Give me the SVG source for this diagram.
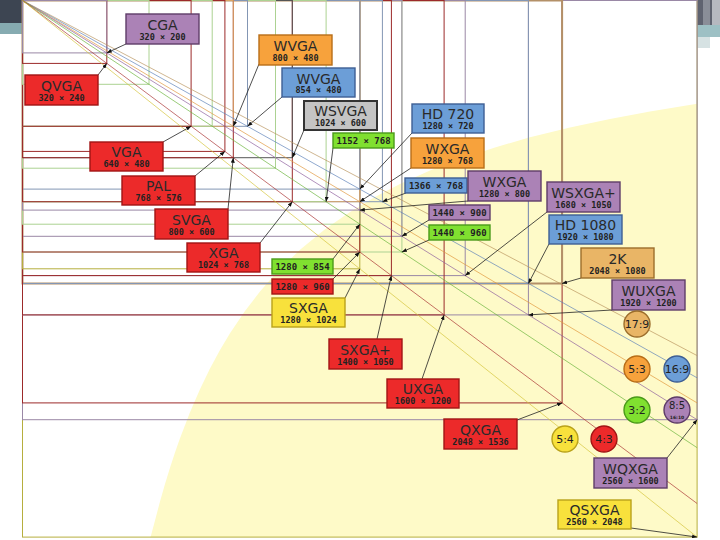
<svg xmlns="http://www.w3.org/2000/svg" width="720" height="540" viewBox="0 0 720 540">
<style>
.res{fill:none;stroke-width:1}
.r43{stroke:#9c2a2a}.r85{stroke:#9a88a6}.r169{stroke:#8396b4}.r32{stroke:#acd292}.r53{stroke:#d9a466}.r54{stroke:#b6ae3e}.r179{stroke:#b39068;stroke-width:2}.rgr{stroke:#555}
.dg{fill:none;stroke-width:0.8;stroke-opacity:0.85}
.b{stroke-width:1.4}
.red{fill:#ec2a2a;stroke:#a11515}.pur{fill:#ab82b6;stroke:#5e3c68}.org{fill:#f7a23c;stroke:#b86e18}.blu{fill:#6c9ed7;stroke:#3e5f94}.gry{fill:#c4c4c4;stroke:#333;stroke-width:2}.grn{fill:#80e030;stroke:#4a9a1a}.yel{fill:#f8e13c;stroke:#b9a21a}.tan{fill:#e9b566;stroke:#9c6e2c}
.t{font-family:"DejaVu Sans",sans-serif;font-size:14px;fill:#2a2a2a;text-anchor:middle}
.n{font-family:"DejaVu Sans Mono",monospace;font-weight:bold;font-size:8.5px;fill:#222;text-anchor:middle}
.s{font-family:"DejaVu Sans Mono",monospace;font-weight:bold;font-size:9px;fill:#222;text-anchor:middle}
.c{font-family:"DejaVu Sans",sans-serif;font-size:11px;fill:#222;text-anchor:middle}
.cn{fill:none;stroke:#222;stroke-width:0.8;marker-end:url(#ah)}
</style>
<defs>
<marker id="ah" markerWidth="5" markerHeight="4" refX="5" refY="2" orient="auto" markerUnits="userSpaceOnUse"><path d="M0,0 L5,2 L0,4 z" fill="#111"/></marker>
</defs>
<rect width="720" height="540" fill="#fff"/>
<!-- slide decoration -->
<rect x="0" y="0" width="22" height="23" fill="#3d4552"/>
<rect x="0" y="23" width="22" height="11" fill="#86abb1"/>
<rect x="697" y="0" width="23" height="25" fill="#5f6370"/>
<rect x="703" y="0" width="7" height="25" fill="#8a8e98"/>
<rect x="712" y="0" width="8" height="25" fill="#b6b9c0"/>
<rect x="697" y="25" width="23" height="12" fill="#9dc0c4"/>
<rect x="697" y="37" width="13" height="11" fill="#d6e2e3"/>
<!-- megapixel region -->
<path d="M150.6,537.1 L155,520.4 L160,501.6 L165,484.1 L170,467.8 L175,452.5 L180,438.3 L190,412.3 L200,389.2 L210,368.6 L220,350 L230,333.3 L245,311 L260,291.5 L275,274.3 L300,249.7 L325,229.3 L350,211.9 L375,197 L400,184.1 L430,170.6 L460,159.1 L495,147.4 L530,137.3 L570,127.4 L610,118.9 L650,111.4 L697.1,103.7 L697.1,537.1 Z" fill="#fefac8"/>
<!-- resolution rectangles -->
<g id="resolution-lines" transform="translate(22.5,0.5)">
<rect class="res r54" width="674.6" height="536.6"/>
<rect class="res r85" width="674.6" height="419.2"/>
<rect class="res r43" width="539.6" height="402.4"/>
<rect class="res r85" width="505.9" height="314.4"/>
<rect class="res r179" width="539.6" height="283"/>
<rect class="res r169" width="505.9" height="283"/>
<rect class="res r85" width="442.7" height="275.1"/>
<rect class="res r43" width="421.6" height="314.4"/>
<rect class="res r32" width="379.4" height="251.5"/>
<rect class="res r85" width="379.4" height="235.8"/>
<rect class="res r43" width="368.9" height="275.1"/>
<rect class="res r169" width="359.9" height="201.2"/>
<rect class="res r54" width="337.3" height="268.3"/>
<rect class="res r43" width="337.3" height="251.5"/>
<rect class="res r32" width="337.3" height="223.7"/>
<rect class="res r85" width="337.3" height="209.6"/>
<rect class="res r53" width="337.3" height="201.2"/>
<rect class="res r169" width="337.3" height="188.6"/>
<rect class="res r32" width="303.6" height="201.2"/>
<rect class="res r43" width="269.8" height="201.2"/>
<rect class="res rgr" width="269.8" height="157.2"/>
<rect class="res r32" width="253" height="167.7"/>
<rect class="res r169" width="225" height="125.8"/>
<rect class="res r43" width="210.8" height="157.2"/>
<rect class="res r53" width="210.8" height="125.8"/>
<rect class="res r43" width="202.4" height="150.9"/>
<rect class="res r32" width="189.7" height="125.8"/>
<rect class="res r43" width="168.6" height="125.8"/>
<rect class="res r32" width="126.5" height="83.8"/>
<rect class="res r43" width="84.3" height="62.9"/>
<rect class="res r85" width="84.3" height="52.4"/>
</g>
<!-- aspect ratio diagonals -->
<g id="aspect-lines" transform="translate(22.5,0.5)">
<line class="dg" x2="674.6" y2="355.1" stroke="#b8935c"/>
<line class="dg" x2="674.6" y2="377.3" stroke="#5a7fb8"/>
<line class="dg" x2="674.6" y2="402.4" stroke="#e0963a"/>
<line class="dg" x2="674.6" y2="419.2" stroke="#8c5c9c"/>
<line class="dg" x2="674.6" y2="447.2" stroke="#6ab43a"/>
<line class="dg" x2="674.6" y2="503" stroke="#a83030"/>
<line class="dg" x2="674.6" y2="536.6" stroke="#d4c438"/>
</g>
<!-- connectors -->
<g id="connectors">
<line class="cn" x1="126" y1="44" x2="106.8" y2="52.9"/>
<line class="cn" x1="98" y1="75" x2="106.8" y2="63.4"/>
<line class="cn" x1="259" y1="64" x2="233.3" y2="126.3"/>
<line class="cn" x1="282" y1="97" x2="247.5" y2="126.3"/>
<line class="cn" x1="304" y1="130" x2="292.3" y2="157.7"/>
<line class="cn" x1="333" y1="148" x2="326.1" y2="201.7"/>
<line class="cn" x1="412" y1="133" x2="359.8" y2="189.1"/>
<line class="cn" x1="411" y1="168" x2="359.8" y2="201.7"/>
<line class="cn" x1="406" y1="193" x2="382.4" y2="201.7"/>
<line class="cn" x1="468" y1="201" x2="359.8" y2="210.1"/>
<line class="cn" x1="429" y1="220" x2="401.9" y2="236.3"/>
<line class="cn" x1="429" y1="240" x2="401.9" y2="252"/>
<line class="cn" x1="547" y1="212" x2="465.2" y2="275.6"/>
<line class="cn" x1="549" y1="244" x2="528.4" y2="283.5"/>
<line class="cn" x1="581" y1="278" x2="562.1" y2="283.5"/>
<line class="cn" x1="612" y1="310" x2="528.4" y2="314.9"/>
<line class="cn" x1="163" y1="142" x2="191.1" y2="126.3"/>
<line class="cn" x1="195" y1="176" x2="224.9" y2="151.4"/>
<line class="cn" x1="228" y1="209" x2="233.3" y2="157.7"/>
<line class="cn" x1="260" y1="243" x2="292.3" y2="201.7"/>
<line class="cn" x1="333" y1="259" x2="359.8" y2="224.2"/>
<line class="cn" x1="333" y1="279" x2="359.8" y2="252"/>
<line class="cn" x1="345" y1="298" x2="359.8" y2="268.8"/>
<line class="cn" x1="377" y1="339" x2="391.4" y2="275.6"/>
<line class="cn" x1="422" y1="379" x2="444.1" y2="314.9"/>
<line class="cn" x1="517" y1="420" x2="562.1" y2="402.9"/>
<line class="cn" x1="667" y1="458" x2="697.1" y2="419.7"/>
<line class="cn" x1="631" y1="528" x2="697.1" y2="537.1"/>
</g>
<!-- nodes -->
<g id="cga"><rect class="b pur" x="126" y="14" width="73" height="30"/><text class="t" x="162.5" y="29.5">CGA</text><text class="n" x="162.5" y="39.5">320 × 200</text></g>
<g id="qvga"><rect class="b red" x="25" y="75" width="73" height="30"/><text class="t" x="61.5" y="90.5">QVGA</text><text class="n" x="61.5" y="100.5">320 × 240</text></g>
<g id="wvga-800"><rect class="b org" x="259" y="35" width="73" height="30"/><text class="t" x="295.5" y="50.5">WVGA</text><text class="n" x="295.5" y="60.5">800 × 480</text></g>
<g id="wvga-854"><rect class="b blu" x="282" y="68" width="73" height="29"/><text class="t" x="318.5" y="83.5">WVGA</text><text class="n" x="318.5" y="93">854 × 480</text></g>
<g id="wsvga"><rect class="b gry" x="304" y="101" width="73" height="29"/><text class="t" x="340.5" y="116">WSVGA</text><text class="n" x="340.5" y="125.5">1024 × 600</text></g>
<g id="r1152x768"><rect class="b grn" x="333" y="133" width="61" height="15"/><text class="s" x="363.5" y="144">1152 × 768</text></g>
<g id="hd720"><rect class="b blu" x="412" y="104" width="72" height="29"/><text class="t" x="448" y="119">HD 720</text><text class="n" x="448" y="128.5">1280 × 720</text></g>
<g id="wxga-768"><rect class="b org" x="411" y="138" width="73" height="30"/><text class="t" x="447.5" y="153.5">WXGA</text><text class="n" x="447.5" y="163.5">1280 × 768</text></g>
<g id="r1366x768"><rect class="b blu" x="405" y="178" width="62" height="15"/><text class="s" x="436" y="189">1366 × 768</text></g>
<g id="wxga-800"><rect class="b pur" x="468" y="171" width="73" height="30"/><text class="t" x="504.5" y="186.5">WXGA</text><text class="n" x="504.5" y="196.5">1280 × 800</text></g>
<g id="r1440x900"><rect class="b pur" x="429" y="205" width="61" height="15"/><text class="s" x="459.5" y="216">1440 × 900</text></g>
<g id="r1440x960"><rect class="b grn" x="429" y="225" width="61" height="15"/><text class="s" x="459.5" y="236">1440 × 960</text></g>
<g id="wsxga-plus"><rect class="b pur" x="547" y="182" width="73" height="30"/><text class="t" x="583.5" y="197.5">WSXGA+</text><text class="n" x="583.5" y="207.5">1680 × 1050</text></g>
<g id="hd1080"><rect class="b blu" x="549" y="215" width="73" height="29"/><text class="t" x="585.5" y="230">HD 1080</text><text class="n" x="585.5" y="239.5">1920 × 1080</text></g>
<g id="k2"><rect class="b tan" x="581" y="248" width="73" height="30"/><text class="t" x="617.5" y="263.5">2K</text><text class="n" x="617.5" y="273.5">2048 × 1080</text></g>
<g id="wuxga"><rect class="b pur" x="612" y="280" width="73" height="30"/><text class="t" x="648.5" y="295.5">WUXGA</text><text class="n" x="648.5" y="305.5">1920 × 1200</text></g>
<g id="vga"><rect class="b red" x="90" y="142" width="73" height="29"/><text class="t" x="126.5" y="157">VGA</text><text class="n" x="126.5" y="166.5">640 × 480</text></g>
<g id="pal"><rect class="b red" x="122" y="176" width="73" height="29"/><text class="t" x="158.5" y="191">PAL</text><text class="n" x="158.5" y="200.5">768 × 576</text></g>
<g id="svga"><rect class="b red" x="155" y="209" width="73" height="30"/><text class="t" x="191.5" y="224.5">SVGA</text><text class="n" x="191.5" y="234.5">800 × 600</text></g>
<g id="xga"><rect class="b red" x="187" y="243" width="73" height="29"/><text class="t" x="223.5" y="258">XGA</text><text class="n" x="223.5" y="267.5">1024 × 768</text></g>
<g id="r1280x854"><rect class="b grn" x="272" y="259" width="61" height="15"/><text class="s" x="302.5" y="270">1280 × 854</text></g>
<g id="r1280x960"><rect class="b red" x="272" y="279" width="61" height="15"/><text class="s" x="302.5" y="290">1280 × 960</text></g>
<g id="sxga"><rect class="b yel" x="272" y="298" width="73" height="29"/><text class="t" x="308.5" y="313">SXGA</text><text class="n" x="308.5" y="322.5">1280 × 1024</text></g>
<g id="sxga-plus"><rect class="b red" x="329" y="339" width="73" height="30"/><text class="t" x="365.5" y="354.5">SXGA+</text><text class="n" x="365.5" y="364.5">1400 × 1050</text></g>
<g id="uxga"><rect class="b red" x="387" y="379" width="72" height="29"/><text class="t" x="423" y="394">UXGA</text><text class="n" x="423" y="403.5">1600 × 1200</text></g>
<g id="qxga"><rect class="b red" x="444" y="419" width="73" height="30"/><text class="t" x="480.5" y="434.5">QXGA</text><text class="n" x="480.5" y="444.5">2048 × 1536</text></g>
<g id="wqxga"><rect class="b pur" x="594" y="458" width="73" height="30"/><text class="t" x="630.5" y="473.5">WQXGA</text><text class="n" x="630.5" y="483.5">2560 × 1600</text></g>
<g id="qsxga"><rect class="b yel" x="558" y="500" width="73" height="29"/><text class="t" x="594.5" y="515">QSXGA</text><text class="n" x="594.5" y="524.5">2560 × 2048</text></g>
<!-- aspect ratio circles -->
<g id="ar-17-9"><circle class="b tan" cx="637" cy="324" r="13"/><text class="c" x="637" y="328">17:9</text></g>
<g id="ar-5-3"><circle class="b org" cx="637" cy="369" r="13"/><text class="c" x="637" y="373">5:3</text></g>
<g id="ar-16-9"><circle class="b blu" cx="677" cy="369" r="13"/><text class="c" x="677" y="373">16:9</text></g>
<g id="ar-3-2"><circle class="b grn" cx="637" cy="410" r="13"/><text class="c" x="637" y="414">3:2</text></g>
<g id="ar-8-5"><circle class="b pur" cx="677" cy="410" r="13"/><text class="c" x="677" y="409" style="font-size:10px">8:5</text><text class="c" x="677" y="418.5" style="font-size:4.5px;font-weight:bold">16:10</text></g>
<g id="ar-5-4"><circle class="b yel" cx="565" cy="439" r="13"/><text class="c" x="565" y="443">5:4</text></g>
<g id="ar-4-3"><circle class="b red" cx="604" cy="439" r="13"/><text class="c" x="604" y="443">4:3</text></g>
</svg>
